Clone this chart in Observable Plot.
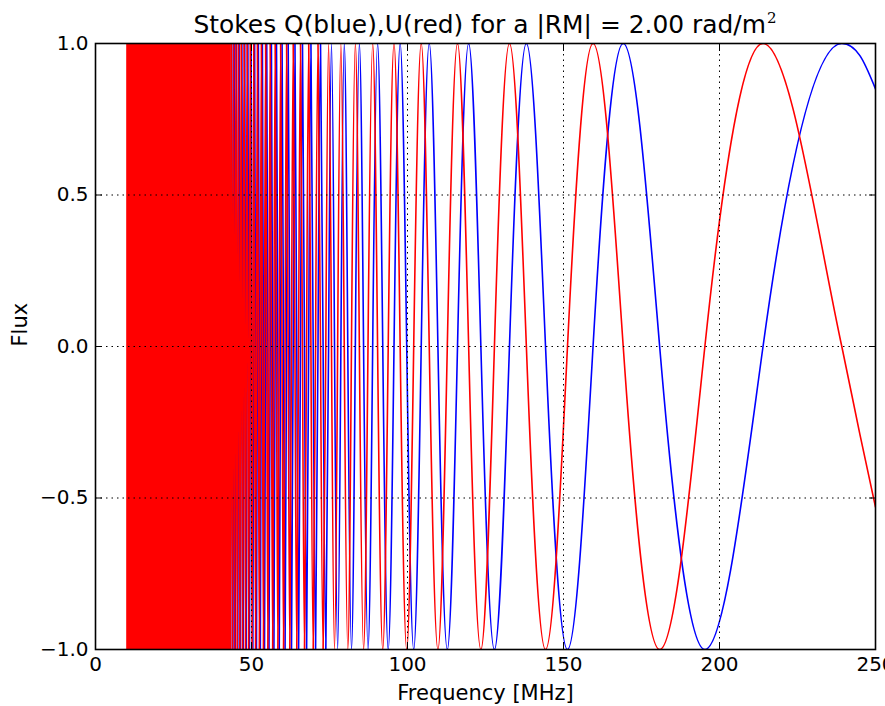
<!DOCTYPE html>
<html><head><meta charset="utf-8">
<script src="https://cdn.jsdelivr.net/npm/d3@7"></script>
<script src="https://cdn.jsdelivr.net/npm/@observablehq/plot@0.6"></script>
<style>
body{margin:0;background:white;overflow:hidden}
#wrap{width:885px;height:706px;background:white;font-family:"DejaVu Sans",sans-serif;color:black}
#title{box-sizing:border-box;height:30px;padding-left:85px;padding-top:13px;font-size:24.9px;line-height:24px;text-align:center;white-space:nowrap}
#title sup{font-family:"DejaVu Serif",serif;font-size:15px;vertical-align:0;position:relative;top:-10px;line-height:0;margin-left:1px}
#chart svg{background:transparent}
</style></head>
<body><div id="wrap"><div id="title">Stokes Q(blue),U(red) for a |RM| = 2.00 rad/m<sup>2</sup></div><div id="chart"></div></div>
<script>
// Frequencies (MHz) of the extrema / zero crossings (quarter-phase points)
const freq = [
  42.96, 43.14, 43.31, 43.49, 43.67, 43.86, 44.04, 44.23, 44.42, 44.61, 44.81, 45.00, 45.20, 45.41, 45.61, 45.82, 46.03, 46.25, 46.47, 46.69,
  46.91, 47.14, 47.37, 47.60, 47.84, 48.08, 48.33, 48.57, 48.83, 49.08, 49.34, 49.61, 49.88, 50.15, 50.43, 50.71, 51.00, 51.29, 51.59, 51.89,
  52.20, 52.51, 52.83, 53.16, 53.49, 53.82, 54.17, 54.52, 54.88, 55.24, 55.61, 55.99, 56.38, 56.78, 57.18, 57.59, 58.01, 58.45, 58.89, 59.34,
  59.80, 60.27, 60.76, 61.25, 61.76, 62.28, 62.82, 63.37, 63.93, 64.51, 65.10, 65.71, 66.34, 66.99, 67.66, 68.34, 69.05, 69.78, 70.54, 71.32,
  72.12, 72.95, 73.82, 74.71, 75.64, 76.61, 77.61, 78.65, 79.73, 80.86, 82.04, 83.28, 84.57, 85.92, 87.34, 88.84, 90.41, 92.07, 93.82, 95.68,
  97.65, 99.75, 101.99, 104.40, 106.97, 109.75, 112.76, 116.03, 119.60, 123.52, 127.86, 132.68, 138.10, 144.24, 151.28, 159.47, 169.14, 180.82, 195.31, 213.95,
  239.20, 245, 250
];
// Stokes Q (blue) at those frequencies
const stokesQ = [
  1,0,-1,0, 1,0,-1,0, 1,0,-1,0, 1,0,-1,0, 1,0,-1,0,
  1,0,-1,0, 1,0,-1,0, 1,0,-1,0, 1,0,-1,0, 1,0,-1,0,
  1,0,-1,0, 1,0,-1,0, 1,0,-1,0, 1,0,-1,0, 1,0,-1,0,
  1,0,-1,0, 1,0,-1,0, 1,0,-1,0, 1,0,-1,0, 1,0,-1,0,
  1,0,-1,0, 1,0,-1,0, 1,0,-1,0, 1,0,-1,0, 1,0,-1,0,
  1,0,-1,0, 1,0,-1,0, 1,0,-1,0, 1,0,-1,0, 1,0,-1,0,
  1, 0.96, 0.85
];
// Stokes U (red) at those frequencies
const stokesU = [
  0,-1,0,1, 0,-1,0,1, 0,-1,0,1, 0,-1,0,1, 0,-1,0,1,
  0,-1,0,1, 0,-1,0,1, 0,-1,0,1, 0,-1,0,1, 0,-1,0,1,
  0,-1,0,1, 0,-1,0,1, 0,-1,0,1, 0,-1,0,1, 0,-1,0,1,
  0,-1,0,1, 0,-1,0,1, 0,-1,0,1, 0,-1,0,1, 0,-1,0,1,
  0,-1,0,1, 0,-1,0,1, 0,-1,0,1, 0,-1,0,1, 0,-1,0,1,
  0,-1,0,1, 0,-1,0,1, 0,-1,0,1, 0,-1,0,1, 0,-1,0,1,
  0, -0.29, -0.53
];
// Region where the oscillations are too dense to resolve (solid red in the picture)
const denseStart = [10];
const denseEnd = [43.5];
const xTicks = [0, 50, 100, 150, 200, 250];
const yTicks = [-1, -0.5, 0, 0.5, 1];

const rows = freq.map((f, i) => ({f, q: stokesQ[i], u: stokesU[i]}));
const band = denseStart.map((s, i) => ({f1: s, f2: denseEnd[i], lo: -1, hi: 1}));
const fmtY = d => (d < 0 ? "\u2212" : "") + Math.abs(d).toFixed(1);
const gridStyle = {stroke: "black", strokeOpacity: 1, strokeWidth: 1, strokeDasharray: "1.5,4"};

// Cubic Hermite curve for oscillation samples taken at extrema and zero crossings:
// flat tangents at extrema, sinusoid-like tangents at balanced crossings.
function waveCurve(context) {
  let xs, ys;
  return {
    areaStart() {}, areaEnd() {},
    lineStart() { xs = []; ys = []; },
    point(x, y) { xs.push(+x); ys.push(+y); },
    lineEnd() {
      const n = xs.length;
      if (!n) return;
      context.moveTo(xs[0], ys[0]);
      if (n === 1) return;
      const m = new Array(n).fill(0);
      for (let i = 1; i < n - 1; i++) {
        const h0 = xs[i] - xs[i - 1], h1 = xs[i + 1] - xs[i];
        const d0 = ys[i] - ys[i - 1], d1 = ys[i + 1] - ys[i];
        if (d0 * d1 <= 0) { m[i] = 0; continue; }
        const s0 = d0 / h0, s1 = d1 / h1;
        const p = (s0 * h1 + s1 * h0) / (h0 + h1);
        const balanced = Math.abs(Math.abs(d0) - Math.abs(d1)) < 0.1 * Math.max(Math.abs(d0), Math.abs(d1));
        m[i] = balanced ? p * Math.PI / 2 : p;
      }
      const sA = (ys[1] - ys[0]) / (xs[1] - xs[0]);
      m[0] = n > 2 ? (3 * sA - m[1]) / 2 : sA;
      const sB = (ys[n - 1] - ys[n - 2]) / (xs[n - 1] - xs[n - 2]);
      m[n - 1] = n > 2 ? (3 * sB - m[n - 2]) / 2 : sB;
      for (let i = 0; i < n - 1; i++) {
        const h = (xs[i + 1] - xs[i]) / 3;
        context.bezierCurveTo(xs[i] + h, ys[i] + m[i] * h, xs[i + 1] - h, ys[i + 1] - m[i + 1] * h, xs[i + 1], ys[i + 1]);
      }
    }
  };
}

const chart = Plot.plot({
  width: 885, height: 676,
  marginLeft: 95, marginRight: 10, marginTop: 13, marginBottom: 57,
  style: {fontFamily: '"DejaVu Sans", sans-serif', fontSize: "20px", background: "transparent", color: "black"},
  x: {domain: [0, 250]},
  y: {domain: [-1, 1]},
  marks: [
    Plot.line(rows, {x: "f", y: "q", stroke: "#0000ff", strokeWidth: 1.6, curve: waveCurve, clip: true}),
    Plot.rect(band, {x1: "f1", x2: "f2", y1: "lo", y2: "hi", fill: "#ff0000"}),
    Plot.line(rows, {x: "f", y: "u", stroke: "#ff0000", strokeWidth: 1.6, curve: waveCurve, clip: true}),
    Plot.ruleX(xTicks, gridStyle),
    Plot.ruleY(yTicks, gridStyle),
    Plot.frame({stroke: "black", strokeWidth: 1.6}),
    Plot.axisX(xTicks, {anchor: "bottom", tickSize: -7, tickPadding: 14, tickFormat: d => String(d), label: null}),
    Plot.axisX(xTicks, {anchor: "top", tickSize: -7, tickFormat: () => "", label: null}),
    Plot.axisY(yTicks, {anchor: "left", tickSize: -7, tickPadding: 14, tickFormat: fmtY, label: null}),
    Plot.axisY(yTicks, {anchor: "right", tickSize: -7, tickFormat: () => "", label: null}),
    Plot.text(["Frequency [MHz]"], {frameAnchor: "bottom", dy: 44, text: d => d, lineAnchor: "middle", fontSize: 21}),
    Plot.text(["Flux"], {frameAnchor: "left", dx: -75, rotate: -90, text: d => d, fontSize: 21})
  ]
});
document.getElementById("chart").appendChild(chart);
</script>
</body></html>
